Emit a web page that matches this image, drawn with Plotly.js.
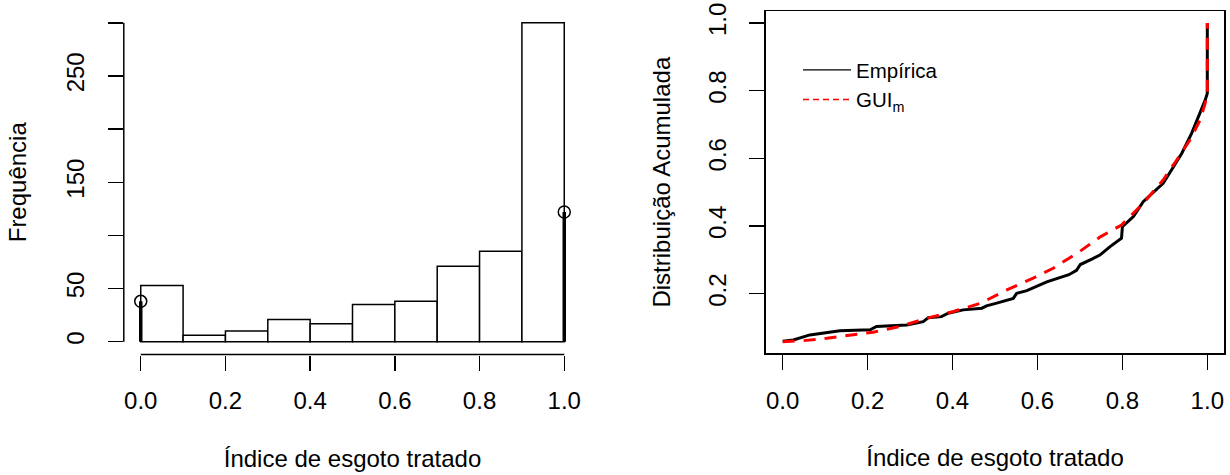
<!DOCTYPE html>
<html>
<head>
<meta charset="utf-8">
<script src="https://cdn.plot.ly/plotly-3.0.1.min.js"></script>
<style>html,body{margin:0;padding:0;background:#fff;}#chart{width:1230px;height:475px;}</style>
</head>
<body>
<div id="chart"></div>
<script>
// ---- Data ----
const binStarts = [0.0, 0.1, 0.2, 0.3, 0.4, 0.5, 0.6, 0.7, 0.8, 0.9];
const binCounts = [53, 6, 10, 21, 17, 35, 38, 71, 85, 300];
const massX = [0, 1];
const massY = [38, 122];

const ecdfX = [0.0, 0.025, 0.064, 0.096, 0.135, 0.206, 0.221, 0.292, 0.331, 0.343, 0.374, 0.390, 0.425, 0.469, 0.480, 0.504, 0.543, 0.551, 0.575, 0.622, 0.653, 0.674, 0.692, 0.701, 0.728, 0.747, 0.771, 0.798, 0.800, 0.826, 0.849, 0.870, 0.896, 0.916, 0.940, 0.963, 0.983, 0.995, 1.0, 1.0];
const ecdfY = [0.059, 0.063, 0.078, 0.083, 0.090, 0.093, 0.103, 0.107, 0.117, 0.129, 0.132, 0.142, 0.152, 0.157, 0.164, 0.172, 0.186, 0.201, 0.209, 0.235, 0.248, 0.256, 0.269, 0.286, 0.302, 0.314, 0.339, 0.364, 0.398, 0.428, 0.472, 0.495, 0.526, 0.566, 0.615, 0.674, 0.733, 0.772, 0.792, 1.0];

const guiX = [0.0, 0.049, 0.104, 0.158, 0.213, 0.276, 0.339, 0.402, 0.465, 0.528, 0.590, 0.637, 0.700, 0.747, 0.798, 0.849, 0.896, 0.928, 0.959, 0.983, 0.995, 1.0, 1.0];
const guiY = [0.058, 0.061, 0.068, 0.076, 0.086, 0.103, 0.127, 0.147, 0.171, 0.211, 0.246, 0.275, 0.325, 0.367, 0.403, 0.467, 0.536, 0.595, 0.654, 0.713, 0.763, 0.802, 1.0];

const xTickVals = [0, 0.2, 0.4, 0.6, 0.8, 1.0];
const xTickText = ['0.0', '0.2', '0.4', '0.6', '0.8', '1.0'];
const histYLabelVals = [0, 50, 150, 250];
const histYLabelText = ['0', '50', '150', '250'];
const histYMinorVals = [100, 200, 300];   // ticks that R draws without a label
const cdfYTickVals = [0.2, 0.4, 0.6, 0.8, 1.0];
const cdfYTickText = ['0.2', '0.4', '0.6', '0.8', '1.0'];

const xTitle = 'Índice de esgoto tratado';
const histYTitle = 'Frequência';
const cdfYTitle = 'Distribuição Acumulada';
const legendNames = ['Empírica', 'GUI<sub>m</sub>'];

// ---- Build traces ----
const FONT = 'Liberation Sans, Arial, Helvetica, sans-serif';
const W = 1230, H = 475;

const massLineX = [], massLineY = [];
massX.forEach((x, i) => { massLineX.push(x, x, null); massLineY.push(0, massY[i], null); });

const traces = [
  { type: 'bar', x: binStarts, y: binCounts, width: 0.1, offset: 0,
    marker: { color: '#ffffff', line: { color: '#000', width: 1.5 } },
    xaxis: 'x', yaxis: 'y', showlegend: false, hoverinfo: 'skip' },
  { type: 'scatter', mode: 'lines', x: massLineX, y: massLineY,
    line: { color: '#000', width: 3.5 }, xaxis: 'x', yaxis: 'y', showlegend: false },
  { type: 'scatter', mode: 'markers', x: massX, y: massY,
    marker: { symbol: 'circle-open', size: 12, color: '#000', line: { width: 1.5, color: '#000' } },
    xaxis: 'x', yaxis: 'y', showlegend: false, cliponaxis: false },
  { type: 'scatter', mode: 'lines', x: ecdfX, y: ecdfY,
    line: { color: '#000', width: 3 }, xaxis: 'x2', yaxis: 'y2', showlegend: false },
  { type: 'scatter', mode: 'lines', x: guiX, y: guiY,
    line: { color: '#ff0000', width: 3, dash: '12px,9px' }, xaxis: 'x2', yaxis: 'y2', showlegend: false },
  // legend entries (thin lines like R's legend)
  { type: 'scatter', mode: 'lines', x: [null], y: [null], name: legendNames[0],
    line: { color: '#000', width: 1.3 }, xaxis: 'x2', yaxis: 'y2', showlegend: true },
  { type: 'scatter', mode: 'lines', x: [null], y: [null], name: legendNames[1],
    line: { color: '#ff0000', width: 1.3, dash: '6px,4px' }, xaxis: 'x2', yaxis: 'y2', showlegend: true },
  // an invisible trace so the tick-only overlay axis is drawn
  { type: 'scatter', mode: 'markers', x: [null], y: [null], xaxis: 'x', yaxis: 'y3',
    showlegend: false, hoverinfo: 'skip' }
];

const tickFont = { family: FONT, size: 24, color: '#000' };
const titleFont = { family: FONT, size: 24, color: '#000' };
const histYDomain = [1 - 354.5 / H, 1 - 10 / H];

const layout = {
  width: W, height: H,
  margin: { l: 0, r: 0, t: 0, b: 0 },
  paper_bgcolor: '#fff', plot_bgcolor: '#fff',
  font: { family: FONT, color: '#000' },
  showlegend: true,
  legend: { x: 798 / W, y: 1 - 50 / H, xanchor: 'left', yanchor: 'top',
    bgcolor: 'rgba(0,0,0,0)', borderwidth: 0, font: { family: FONT, size: 20.5, color: '#000' },
    itemwidth: 48, tracegroupgap: 0 },
  bargap: 0,
  xaxis: { domain: [123.8 / W, 581.2 / W], anchor: 'y', range: [-0.04, 1.04],
    showgrid: false, zeroline: false, showline: false,
    tickvals: xTickVals, ticktext: xTickText, ticks: 'outside', ticklen: 15, tickwidth: 1.5, tickcolor: '#000',
    tickfont: tickFont, ticklabelstandoff: 10,
    title: { text: xTitle, font: titleFont, standoff: 36 } },
  yaxis: { domain: histYDomain, anchor: 'x', range: [-12, 312],
    showgrid: false, zeroline: false, showline: false,
    tickvals: histYLabelVals, ticktext: histYLabelText, ticks: 'outside', ticklen: 15, tickwidth: 1.5, tickcolor: '#000',
    tickfont: tickFont, tickangle: -90, ticklabelstandoff: 14,
    title: { text: histYTitle, font: titleFont, standoff: 28 } },
  yaxis3: { domain: histYDomain, anchor: 'x', overlaying: 'y', side: 'left', range: [-12, 312],
    showgrid: false, zeroline: false, showline: false, showticklabels: false,
    tickvals: histYMinorVals, ticks: 'outside', ticklen: 15, tickwidth: 1.5, tickcolor: '#000' },
  xaxis2: { domain: [765.7 / W, 1224.3 / W], anchor: 'y2', range: [-0.04, 1.04],
    showgrid: false, zeroline: false, showline: true, mirror: true, linecolor: '#000', linewidth: 1.5,
    tickvals: xTickVals, ticktext: xTickText, ticks: 'outside', ticklen: 15, tickwidth: 1.5, tickcolor: '#000',
    tickfont: tickFont, ticklabelstandoff: 10,
    title: { text: xTitle, font: titleFont, standoff: 36 } },
  yaxis2: { domain: [1 - 353.3 / H, 1 - 11 / H], anchor: 'x2', range: [0.0236, 1.0355],
    showgrid: false, zeroline: false, showline: true, mirror: true, linecolor: '#000', linewidth: 1.5,
    tickvals: cdfYTickVals, ticktext: cdfYTickText, ticks: 'outside', ticklen: 15, tickwidth: 1.5, tickcolor: '#000',
    tickfont: tickFont, tickangle: -90, ticklabelstandoff: 14,
    title: { text: cdfYTitle, font: titleFont, standoff: 26 } },
  shapes: [
    { type: 'line', xref: 'x domain', yref: 'y', x0: 0, x1: 0, y0: 0, y1: 300, line: { color: '#000', width: 1.5 } },
    { type: 'line', xref: 'x', yref: 'y domain', x0: 0, x1: 1, y0: 0, y1: 0, line: { color: '#000', width: 1.5 } }
  ]
};

Plotly.newPlot('chart', traces, layout, { staticPlot: true, displayModeBar: false });
</script>
</body>
</html>
